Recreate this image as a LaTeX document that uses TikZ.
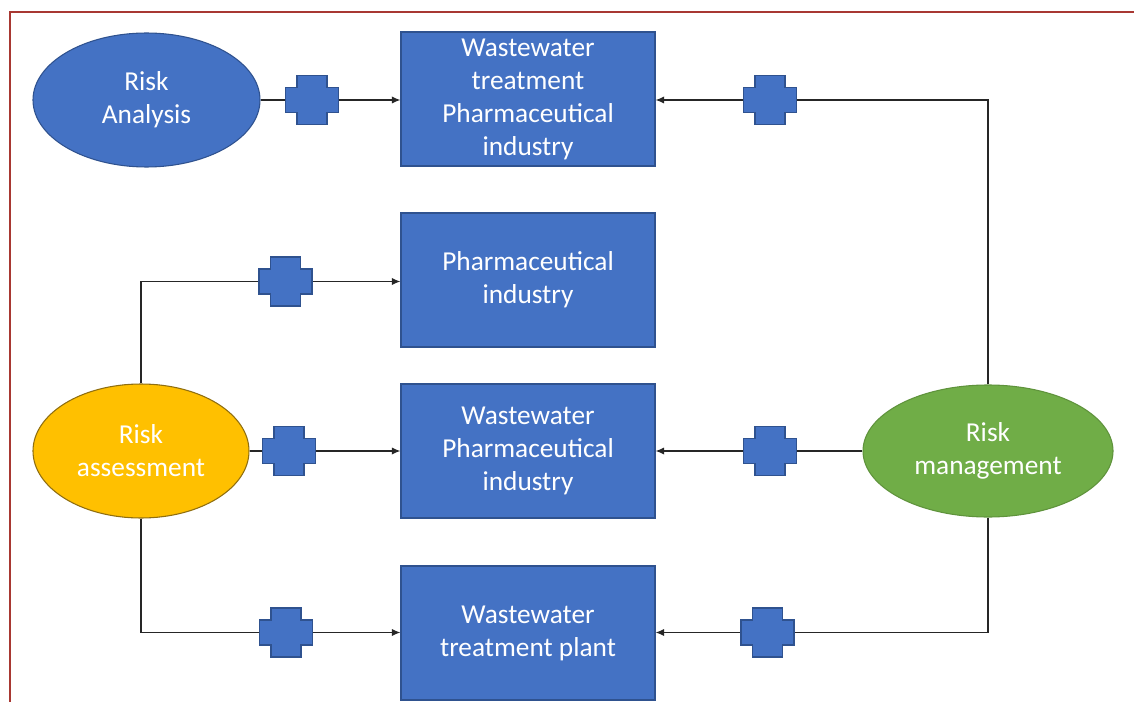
\documentclass[tikz,border=0pt]{standalone}
\usepackage{fontspec}
\setmainfont{Carlito}
\usetikzlibrary{arrows.meta,shapes.geometric}
\definecolor{boxblue}{HTML}{4472C4}
\definecolor{boxedge}{HTML}{2F528F}
\definecolor{yel}{HTML}{FFC000}
\definecolor{yeledge}{HTML}{8F6E10}
\definecolor{grn}{HTML}{70AD47}
\definecolor{framec}{RGB}{168,56,50}
\begin{document}
\begin{tikzpicture}[x=0.75pt,y=-0.75pt,
  txt/.style={text=white, align=center, font=\fontsize{20.5}{24.75}\selectfont},
  box/.style={txt, rectangle, fill=boxblue, draw=boxedge, line width=0.8pt,
    minimum width=190.5pt, minimum height=100.5pt, inner sep=0pt},
  ell/.style={txt, ellipse, inner sep=0pt, line width=0.8pt},
  conn/.style={line width=1pt, black!85},
  arr/.style={conn, -{Latex[length=6.5pt,width=5.5pt]}},
  plus/.style={rectangle, inner sep=0pt, minimum width=39.75pt, minimum height=36.75pt},
  plusshape/.style={fill=boxblue, draw=boxedge, line width=0.8pt}
]
\useasboundingbox (0,0) rectangle (1134,702);
\draw[framec, line width=1.5pt] (10,702) -- (10,12.5) -- (1134,12.5);

% ellipses
\node[ell, fill=boxblue, draw=boxedge, minimum width=170.25pt, minimum height=100.5pt] (ra) at (146.5,100) {Risk\\Analysis};
\node[ell, fill=yel, draw=yeledge, minimum width=162pt, minimum height=100.5pt] (as) at (141,451) {Risk\\assessment};
\node[ell, fill=grn, draw=grn!85!black, minimum width=187.5pt, minimum height=99pt] (rm) at (988,451) {Risk\\management};

% boxes
\node[box] (b1) at (528,99) {Wastewater\\treatment\\Pharmaceutical\\industry};
\node[box] (b2) at (528,280) {Pharmaceutical\\industry};
\node[box] (b3) at (528,451) {Wastewater\\Pharmaceutical\\industry};
\node[box] (b4) at (528,633) {Wastewater\\treatment plant};

% cross holders
\node[plus] (c1) at (312,100) {};
\node[plus] (c2) at (285.5,281.5) {};
\node[plus] (c3) at (289,451) {};
\node[plus] (c4) at (286,632.5) {};
\node[plus] (c5) at (770,100) {};
\node[plus] (c6) at (770,451) {};
\node[plus] (c7) at (767.5,632.5) {};

% connectors
\draw[conn] (ra) -- (c1);
\draw[arr] (c1) -- (b1.west |- c1);
\draw[conn] (as.north) |- (c2.west);
\draw[arr] (c2) -- (b2.west |- c2);
\draw[conn] (as) -- (c3);
\draw[arr] (c3) -- (b3.west |- c3);
\draw[conn] (as.south) |- (c4.west);
\draw[arr] (c4) -- (b4.west |- c4);
\draw[conn] (rm.north) |- (c5.east);
\draw[arr] (c5) -- (b1.east |- c5);
\draw[conn] (rm) -- (c6);
\draw[arr] (c6) -- (b3.east |- c6);
\draw[conn] (rm.south) |- (c7.east);
\draw[arr] (c7) -- (b4.east |- c7);

% cross shapes
\foreach \n in {c1,c2,c3,c4,c5,c6,c7}{
  \begin{scope}[shift={(\n.center)}]
    \draw[plusshape] (-26.5,-12.5) -- (-15,-12.5) -- (-15,-24.5) -- (15,-24.5) -- (15,-12.5)
      -- (26.5,-12.5) -- (26.5,12.5) -- (15,12.5) -- (15,24.5) -- (-15,24.5)
      -- (-15,12.5) -- (-26.5,12.5) -- cycle;
  \end{scope}
}
\end{tikzpicture}
\end{document}
